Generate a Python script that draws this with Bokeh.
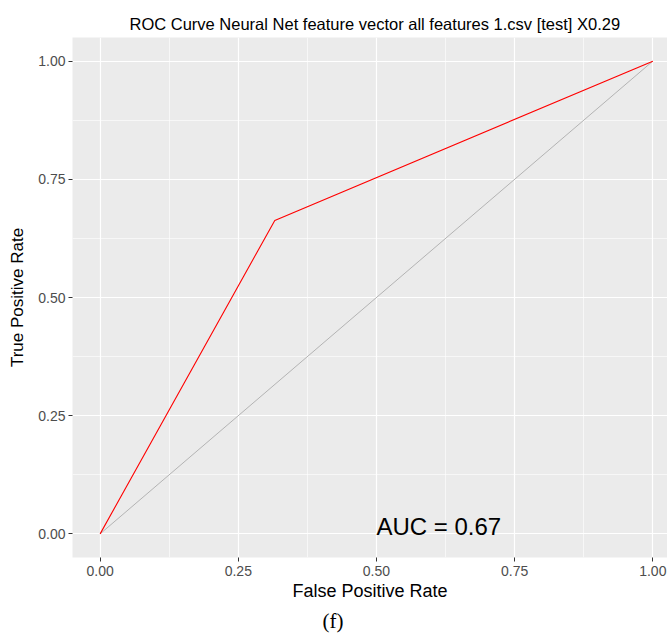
from bokeh.plotting import figure
from bokeh.models import FixedTicker, Label, Title
from bokeh.embed import file_html
from bokeh.resources import INLINE

# ROC data
fpr = [0.0, 0.316, 1.0]
tpr = [0.0, 0.663, 1.0]
diag_x = [0.0, 1.0]
diag_y = [0.0, 1.0]
auc_text = "AUC = 0.67"
title_text = "ROC Curve Neural Net feature vector all features 1.csv [test] X0.29"
caption_text = "(f)"
major_ticks = [0.0, 0.25, 0.5, 0.75, 1.0]
minor_ticks = [0.125, 0.375, 0.625, 0.875]
tick_labels = {0.0: "0.00", 0.25: "0.25", 0.5: "0.50", 0.75: "0.75", 1.0: "1.00"}

FONT = "Liberation Sans"

p = figure(width=667, height=637, x_range=(-0.05, 1.0266), y_range=(-0.05, 1.05),
           output_backend="svg", toolbar_location=None,
           min_border_left=72, min_border_right=0, min_border_top=37, min_border_bottom=80)

p.title.text = title_text
p.title.text_font = FONT
p.title.text_font_size = "16.5px"
p.title.text_font_style = "normal"
p.title.text_color = "black"
p.title.align = "left"
p.title.offset = 57
p.title.standoff = 9

p.background_fill_color = "#EBEBEB"
p.border_fill_color = "white"
p.outline_line_color = None

for ax in (p.xaxis, p.yaxis):
    ax.ticker = FixedTicker(ticks=major_ticks, minor_ticks=minor_ticks)
    ax.major_label_overrides = tick_labels
    ax.axis_line_color = None
    ax.major_tick_line_color = "#333333"
    ax.major_tick_in = 0
    ax.major_tick_out = 4
    ax.minor_tick_line_color = None
    ax.major_label_text_font = FONT
    ax.major_label_text_font_size = "14px"
    ax.major_label_text_color = "#4D4D4D"
    ax.axis_label_text_font = FONT
    ax.axis_label_text_font_style = "normal"
    ax.axis_label_text_color = "black"
    ax.major_label_standoff = 4

p.xaxis.axis_label = "False Positive Rate"
p.yaxis.axis_label = "True Positive Rate"
p.xaxis.axis_label_text_font_size = "18px"
p.yaxis.axis_label_text_font_size = "17px"
p.xaxis.axis_label_standoff = 2
p.yaxis.axis_label_standoff = 8
p.yaxis.major_label_standoff = 3

for g in (p.xgrid, p.ygrid):
    g.ticker = FixedTicker(ticks=major_ticks, minor_ticks=minor_ticks)
    g.grid_line_color = "white"
    g.grid_line_width = 1.2
    g.minor_grid_line_color = "white"
    g.minor_grid_line_width = 0.6

p.line(diag_x, diag_y, line_color="#B3B3B3", line_width=1)
p.line(fpr, tpr, line_color="red", line_width=1.1)

p.add_layout(Label(x=0.5, y=0.0, text=auc_text, text_font=FONT, text_font_size="24px",
                   text_color="black", text_baseline="alphabetic", text_align="left", y_offset=7))

cap = Title(text=caption_text, align="left", offset=250, text_font="Liberation Serif",
            text_font_size="21px", text_font_style="normal", text_color="black", standoff=7)
p.add_layout(cap, "below")

open("out.html", "w").write(file_html(p, INLINE))
